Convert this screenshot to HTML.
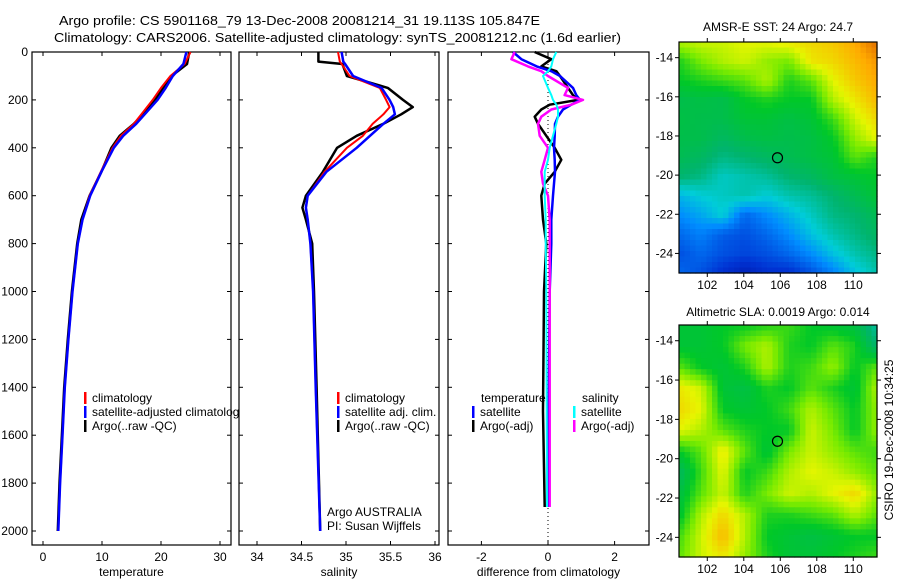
<!DOCTYPE html>
<html><head><meta charset="utf-8">
<style>
html,body{margin:0;padding:0;background:#fff;}
svg{display:block;font-family:"Liberation Sans",sans-serif;}
</style></head>
<body>
<svg id="fig" width="900" height="580" viewBox="0 0 900 580" xmlns="http://www.w3.org/2000/svg">
<rect width="900" height="580" fill="#fff"/>
<text x="59" y="25" font-size="13" textLength="481" lengthAdjust="spacingAndGlyphs">Argo profile: CS 5901168_79 13-Dec-2008 20081214_31 19.113S 105.847E</text>
<text x="54" y="42" font-size="13" textLength="567" lengthAdjust="spacingAndGlyphs">Climatology: CARS2006. Satellite-adjusted climatology: synTS_20081212.nc (1.6d earlier)</text>
<text x="778" y="31" font-size="12" text-anchor="middle">AMSR-E SST: 24 Argo: 24.7</text>
<text x="778" y="316" font-size="12" text-anchor="middle">Altimetric SLA: 0.0019 Argo: 0.014</text>
<text x="0" y="0" font-size="12" text-anchor="middle" transform="translate(893,440) rotate(-90)">CSIRO 19-Dec-2008 10:34:25</text>
<g id="content"></g>
</svg>
<script>
// ---- profile data ----
const depthsT = [0,50,100,150,200,250,300,350,400,500,600,700,800,1000,1200,1400,1600,1800,2000];
const tempClim = [25.0,24.0,21.6,20.0,18.6,17.0,15.4,13.2,11.8,9.8,7.9,6.7,5.9,5.0,4.3,3.7,3.3,2.9,2.6];
const tempSat  = [24.3,23.8,22.0,20.8,19.4,17.6,15.8,13.6,12.0,9.9,8.0,6.7,5.9,5.0,4.3,3.7,3.3,2.9,2.6];
const tempArgo = [24.8,24.4,21.8,20.4,19.0,17.4,15.4,13.0,11.6,9.9,7.9,6.5,5.8,4.9,4.2,3.6,3.2,2.8,2.5];
const depthsS = [0,40,50,100,150,200,230,260,300,350,400,500,600,650,700,800,1000,1400,2000];
const salClim = [34.91,34.93,34.95,35.04,35.38,35.45,35.49,35.42,35.30,35.19,35.01,34.76,34.57,34.55,34.57,34.60,34.63,34.66,34.71];
const salSat  = [34.95,34.97,34.99,35.08,35.40,35.49,35.53,35.55,35.42,35.27,35.12,34.78,34.57,34.55,34.57,34.60,34.63,34.66,34.71];
const salArgo = [34.69,34.69,34.96,35.01,35.47,35.64,35.75,35.62,35.42,35.12,34.90,34.74,34.55,34.51,34.55,34.62,34.64,34.67,34.71];
const depthsD = [0,30,60,80,100,150,180,200,220,240,270,300,350,400,450,500,550,600,700,800,1000,1500,1900];
const diffTSat  = [-1.05,-0.8,-0.34,0.1,0.36,0.75,0.85,0.96,0.7,0.45,0.3,0.21,0.2,0.18,0.2,0.21,0.18,0.15,0.1,0.1,0.05,0.02,0.0];
const diffTArgo = [-0.4,0.1,-0.2,0.25,0.36,0.6,0.75,0.9,0.05,-0.2,-0.4,-0.3,-0.05,0.2,0.4,0.2,-0.1,-0.2,-0.15,-0.05,-0.12,-0.15,-0.1];
const diffSSat  = [0.25,0.15,0.1,0.0,-0.15,0.0,0.1,0.15,0.25,0.3,0.3,0.25,0.15,0.05,0.0,-0.1,-0.1,-0.1,-0.07,-0.07,-0.05,-0.04,-0.03];
const diffSArgo = [-1.0,-1.1,-0.6,-0.2,0.0,0.6,0.5,1.05,0.7,0.1,-0.2,-0.3,-0.25,0.0,-0.1,-0.2,-0.15,0.0,0.05,0.05,0.05,0.05,0.05];
const depthTicks = [0,200,400,600,800,1000,1200,1400,1600,1800,2000];
const tempTicks = [0,10,20,30];
const salTicks = [34,34.5,35,35.5,36];
const diffTicks = [-2,0,2];
// ---- map data (0..1 colour scale) ----
const sstGrid = [
[.72,.74,.74,.76,.76,.78,.80,.82,.86,.92],
[.62,.68,.72,.74,.70,.68,.78,.80,.84,.88],
[.60,.62,.64,.66,.72,.62,.66,.76,.82,.86],
[.55,.56,.55,.60,.62,.60,.60,.72,.78,.84],
[.56,.55,.55,.58,.58,.56,.58,.64,.74,.80],
[.55,.55,.52,.55,.56,.55,.56,.60,.70,.76],
[.54,.52,.48,.50,.52,.54,.56,.58,.66,.62],
[.50,.48,.42,.44,.46,.50,.52,.56,.58,.60],
[.36,.40,.42,.44,.40,.44,.46,.50,.54,.58],
[.30,.34,.40,.24,.30,.36,.42,.48,.50,.54],
[.24,.28,.22,.20,.24,.30,.38,.44,.48,.52],
[.20,.24,.20,.18,.20,.24,.30,.38,.44,.48],
[.24,.20,.14,.10,.14,.14,.20,.28,.38,.44]];
const slaGrid = [
[.58,.58,.60,.60,.62,.64,.60,.58,.56,.45],
[.58,.58,.60,.68,.72,.62,.60,.66,.62,.50],
[.66,.60,.58,.62,.72,.62,.64,.70,.60,.66],
[.78,.74,.58,.56,.62,.60,.66,.62,.58,.72],
[.80,.76,.60,.58,.60,.64,.72,.66,.60,.70],
[.76,.72,.66,.62,.60,.60,.74,.68,.60,.70],
[.60,.66,.78,.66,.58,.68,.74,.70,.66,.64],
[.52,.64,.76,.60,.64,.72,.76,.74,.70,.66],
[.56,.66,.74,.62,.68,.74,.72,.76,.80,.70],
[.58,.72,.80,.72,.62,.62,.64,.66,.72,.66],
[.64,.74,.84,.72,.60,.58,.56,.58,.60,.60],
[.66,.74,.78,.70,.62,.58,.58,.60,.62,.64]];
const lonTicks = [102,104,106,108,110];
const latTicks = [-14,-16,-18,-20,-22,-24];
const argoLon = 105.847, argoLat = -19.113;

const NS='http://www.w3.org/2000/svg';
const root=document.getElementById('content');
function mk(tag,attrs,parent){const e=document.createElementNS(NS,tag);for(const k in attrs)e.setAttribute(k,attrs[k]);(parent||root).appendChild(e);return e;}
const yD = d => 52 + d*0.2395;
const BOT=545, TOP=52;
function frame(x0,x1,y0,y1,name){
  const r=mk('rect',{x:x0,y:y0,width:x1-x0,height:y1-y0,fill:'none',stroke:'#000','stroke-width':1.2});
  
  
}
function line(xs,ds,xf,col,w,name){
  const p=xs.map((v,i)=>xf(v).toFixed(1)+','+yD(ds[i]).toFixed(1)).join(' ');
  const e=mk('polyline',{points:p,fill:'none',stroke:col,'stroke-width':w,'stroke-linejoin':'round'});
  
  
}
function txt(s,x,y,opt,name){
  const e=mk('text',Object.assign({x:x,y:y,'font-size':12},opt||{}));e.textContent=s;
  
  
  return e;
}
function panel(x0,x1,ticks,xf,label,name,dy){
  frame(x0,x1,TOP,BOT,name+'-frame');
  ticks.forEach(t=>{const x=xf(t);
    mk('line',{x1:x,x2:x,y1:BOT,y2:BOT-4,stroke:'#000'});mk('line',{x1:x,x2:x,y1:TOP,y2:TOP+4,stroke:'#000'});
    txt(String(t),x,561,{'text-anchor':'middle'},name+'-x-tick-label');});
  depthTicks.forEach(d=>{const y=yD(d);
    mk('line',{x1:x0,x2:x0+4,y1:y,y2:y,stroke:'#000'});mk('line',{x1:x1,x2:x1-4,y1:y,y2:y,stroke:'#000'});
    if(dy) txt(String(d),28,y+4,{'text-anchor':'end'},'depth-tick-label');});
  txt(label,(x0+x1)/2,576,{'text-anchor':'middle'},name+'-x-axis-title');
}
const xT=t=>43+5.9*t;
panel(32,231,tempTicks,xT,'temperature','temperature-panel',true);
line(tempArgo,depthsT,xT,'#000',2.5,'temp-argo-line');
line(tempClim,depthsT,xT,'#f00',2,'temp-clim-line');
line(tempSat,depthsT,xT,'#00f',2.5,'temp-sat-line');
const xS=s=>257+89*(s-34);
panel(239,439,salTicks,xS,'salinity','salinity-panel',false);
line(salArgo,depthsS,xS,'#000',2.5,'sal-argo-line');
line(salClim,depthsS,xS,'#f00',2,'sal-clim-line');
line(salSat,depthsS,xS,'#00f',2.5,'sal-sat-line');
const xDf=v=>548+33.3*v;
panel(448,649,diffTicks,xDf,'difference from climatology','difference-panel',false);
mk('line',{x1:548,x2:548,y1:TOP,y2:BOT,stroke:'#000','stroke-dasharray':'1,3'});
line(diffTArgo,depthsD,xDf,'#000',2.5,'diff-temp-argo-line');
line(diffTSat,depthsD,xDf,'#00f',2.5,'diff-temp-sat-line');
line(diffSArgo,depthsD,xDf,'#f0f',2.5,'diff-sal-argo-line');
line(diffSSat,depthsD,xDf,'#0ff',2,'diff-sal-sat-line');
function leg(x,y,col,s,name){mk('rect',{x:x,y:y-10,width:2.5,height:12,fill:col});txt(s,x+8,y,{},name);}
const lg1=mk('svg',{x:32,y:380,width:207,height:60,overflow:'hidden'});
[['#f00','climatology'],['#00f','satellite-adjusted climatology'],['#000','Argo(..raw -QC)']].forEach((a,i)=>{
  const yy=22+i*14; mk('rect',{x:52,y:yy-10,width:2.5,height:12,fill:a[0]},lg1);
  const e=mk('text',{x:60,y:yy,'font-size':12},lg1);e.textContent=a[1];
  
  });
leg(337,402,'#f00','climatology','sal-legend-clim');
leg(337,416,'#00f','satellite adj. clim.','sal-legend-sat');
leg(337,430,'#000','Argo(..raw -QC)','sal-legend-argo');
txt('Argo AUSTRALIA',327,516,{},'argo-australia-label');
txt('PI: Susan Wijffels',327,530,{},'pi-label');
txt('temperature',481,402,{},'diff-legend-temp-title');
leg(472,416,'#00f','satellite','diff-legend-temp-sat');
leg(472,430,'#000','Argo(-adj)','diff-legend-temp-argo');
txt('salinity',582,402,{},'diff-legend-sal-title');
leg(573,416,'#0ff','satellite','diff-legend-sal-sat');
leg(573,430,'#f0f','Argo(-adj)','diff-legend-sal-argo');
// ---- maps ----
const cmapStops=[[0,[0,0,130]],[0.15,[0,50,210]],[0.3,[0,140,255]],[0.4,[0,205,215]],[0.5,[0,180,110]],[0.6,[0,200,40]],[0.68,[120,235,0]],[0.76,[230,245,0]],[0.86,[255,170,0]],[0.95,[210,80,0]],[1,[180,40,0]]];
function cmap(v){v=Math.max(0,Math.min(1,v));
  for(let k=1;k<cmapStops.length;k++){const a=cmapStops[k-1],b=cmapStops[k];
    if(v<=b[0]){const t=(v-a[0])/(b[0]-a[0]);const c=a[1].map((x,i)=>Math.round(x+(b[1][i]-x)*t));return 'rgb('+c.join(',')+')';}}
  return 'rgb(180,40,0)';}
function map(grid,x0,x1,y0,y1,name){
  const lon0=100.45,lon1=111.3;
  const lx=l=>x0+(l-lon0)/(lon1-lon0)*(x1-x0);
  const lat0=-13.2,lat1=-25.0;
  const ly=l=>y0+(l-lat0)/(lat1-lat0)*(y1-y0);
  const R=grid.length,C=grid[0].length,nx=36,ny=42,cw=(x1-x0)/nx,ch=(y1-y0)/ny;
  const g=mk('g',{});
  
  
  for(let j=0;j<ny;j++)for(let i=0;i<nx;i++){
    const fx=(i+0.5)/nx*(C-1),fy=(j+0.5)/ny*(R-1);
    const ix=Math.min(C-2,Math.floor(fx)),iy=Math.min(R-2,Math.floor(fy)),tx=fx-ix,ty=fy-iy;
    const v=grid[iy][ix]*(1-tx)*(1-ty)+grid[iy][ix+1]*tx*(1-ty)+grid[iy+1][ix]*(1-tx)*ty+grid[iy+1][ix+1]*tx*ty;
    mk('rect',{x:(x0+i*cw).toFixed(2),y:(y0+j*ch).toFixed(2),width:(cw+0.6).toFixed(2),height:(ch+0.6).toFixed(2),fill:cmap(v)},g);}
  frame(x0,x1,y0,y1,name+'-frame');
  lonTicks.forEach(l=>{const x=lx(l);mk('line',{x1:x,x2:x,y1:y1,y2:y1+4,stroke:'#000'});mk('line',{x1:x,x2:x,y1:y0,y2:y0-4,stroke:'#000'});
    txt(String(l),x,y1+16,{'text-anchor':'middle'},name+'-lon-label');});
  latTicks.forEach(l=>{const y=ly(l);mk('line',{x1:x0,x2:x0-4,y1:y,y2:y,stroke:'#000'});mk('line',{x1:x1,x2:x1+4,y1:y,y2:y,stroke:'#000'});
    txt(String(l),x0-6,y+4,{'text-anchor':'end'},name+'-lat-label');});
  const c=mk('circle',{cx:lx(argoLon),cy:ly(argoLat),r:5,fill:'none',stroke:'#000','stroke-width':1.2});
  
  
}
map(sstGrid,679,877,42,273,'sst-map');
map(slaGrid,679,877,325,557,'sla-map');
</script>
</body></html>
